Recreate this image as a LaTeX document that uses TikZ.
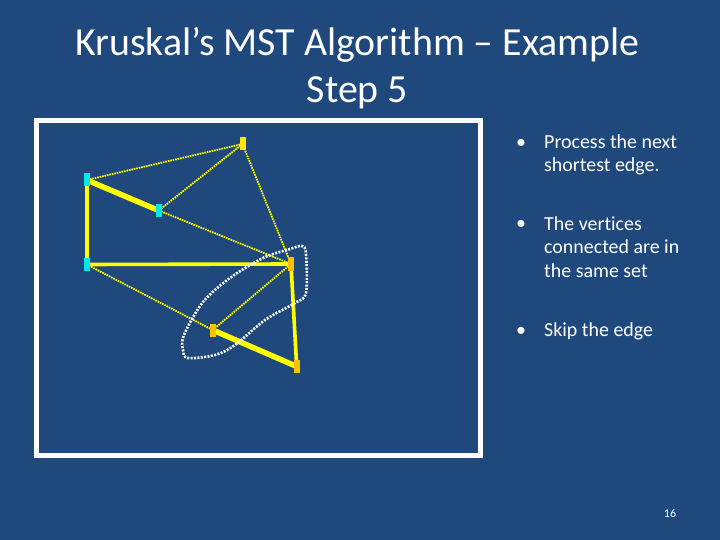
\documentclass[tikz,border=0pt]{standalone}
\usepackage{fontspec}
\setmainfont{Carlito}[Ligatures=NoCommon]
\usetikzlibrary{backgrounds}
\definecolor{slide}{HTML}{1F497D}
\definecolor{edgeyellow}{HTML}{FFFF00}
\definecolor{vtop}{HTML}{FFE500}
\definecolor{vgold}{HTML}{FFC000}
\definecolor{vcyan}{HTML}{00E8F0}

\begin{document}
\begin{tikzpicture}[x=1bp, y=-1bp,
  vert/.style={rectangle, inner sep=0pt, minimum width=6bp, minimum height=13bp},
  tree/.style={draw=edgeyellow, line width=3.6bp},
  treebold/.style={draw=edgeyellow, line width=5.5bp},
  cand/.style={draw=edgeyellow, line width=1.8bp, dash pattern=on 1.6bp off 0.9bp},
  item/.style={text=white, anchor=base west, align=left, inner sep=0pt, font=\fontsize{20}{23.5}\selectfont},
  dot/.style={text=white, anchor=base, inner sep=0pt, font=\fontsize{20}{23.5}\selectfont}]
\useasboundingbox (0,0) rectangle (720,540);

\node[text=white, align=center, anchor=base, inner sep=0pt, font=\fontsize{40}{47.3}\selectfont] (title) at (357.5,102.3)
  {Kruskal’s MST Algorithm – Example\\Step 5};

\node[vert, fill=vtop]  (a) at (242.5,144) {};
\node[vert, fill=vcyan] (b) at (86.7,180) {};
\node[vert, fill=vcyan] (c) at (158.7,210.5) {};
\node[vert, fill=vcyan] (d) at (86.7,264.5) {};
\node[vert, fill=vgold] (e) at (291,264) {};
\node[vert, fill=vgold] (f) at (212.7,330) {};
\node[vert, fill=vgold] (g) at (296.7,366.5) {};

\draw[white, line width=2.6bp, dash pattern=on 2bp off 1.4bp] plot[smooth cycle, tension=0.55] coordinates
  {(302,246) (306,254) (306,293) (295,303) (265,320) (235,345) (215,355) (188,358) (183,350) (184,335) (203,302) (230,278) (263,258) (290,249)};

\node[dot]  (dot1) at (521,148.3) {•};
\node[item] (t1) at (544,171.7) {Process the next\\shortest edge.};
\node[dot]  (dot2) at (521,230) {•};
\node[item] (t2) at (544,277.3) {The vertices\\connected are in\\the same set};
\node[dot]  (dot3) at (521,336) {•};
\node[item] (t3) at (544,336) {Skip the edge};

\node[text=white, font=\fontsize{12}{14}\selectfont] (page) at (670,514) {16};

\begin{scope}[on background layer]
\fill[slide] (0,0) rectangle (720,540);
\draw[white, line width=5bp] (36.5,120.5) rectangle (480.5,455.5);
\draw[cand] (a.center) -- (b.center);
\draw[cand] (a.center) -- (c.center);
\draw[cand] (a.center) -- (e.center);
\draw[cand] (c.center) -- (e.center);
\draw[cand] (d.center) -- (f.center);
\draw[cand] (f.center) -- (e.center);
\draw[treebold] (b.center) -- (c.center);
\draw[tree] (b.center) -- (d.center);
\draw[tree] (d.center) -- (e.center);
\draw[tree] (e.center) -- (g.center);
\draw[treebold] (f.center) -- (g.center);
\end{scope}
\end{tikzpicture}
\end{document}
